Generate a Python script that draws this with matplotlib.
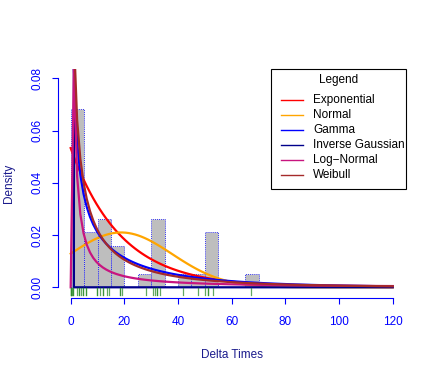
import math

import numpy as np
import matplotlib

matplotlib.use("Agg")
import matplotlib.pyplot as plt
from matplotlib.patches import Rectangle

plt.rcParams["font.family"] = ["Liberation Sans", "DejaVu Sans"]

delta_times = [
    0.05, 0.1, 0.2, 0.3, 0.5, 1.0, 1.0, 2.2, 3.1, 3.1, 3.8, 4.7, 4.7,
    5.7, 5.7, 9.9, 9.95,
    10.9, 12.2, 12.2, 13.4, 14.3,
    18.4, 18.4, 19.2,
    28.1,
    30.8, 31.5, 32.3, 32.3, 33.3,
    42.0,
    47.6,
    50.2, 51.3, 51.3, 52.9,
    67.1,
]
bin_edges = list(range(0, 75, 5))

# fitted distribution parameters
exp_rate = 0.0533
norm_mean, norm_sd = 18.8, 19.0
gamma_shape, gamma_scale = 0.45, 41.5
invgauss_mean, invgauss_shape = 0.001, 0.01
lnorm_meanlog, lnorm_sdlog = 0.6, 3.9
weib_shape, weib_scale = 0.6, 12.5

dist_names = ["Exponential", "Normal", "Gamma", "Inverse Gaussian", "Log\u2212Normal", "Weibull"]
dist_colors = ["red", "orange", "blue", "darkblue", "#C8157F", "#A52A2A"]

x_ticks = [0, 20, 40, 60, 80, 100, 120]
y_ticks = [0.00, 0.02, 0.04, 0.06, 0.08]


def densities(x):
    x_ig = np.maximum(x, 1e-3)
    with np.errstate(divide="ignore", invalid="ignore", over="ignore"):
        d_exp = exp_rate * np.exp(-exp_rate * x)
        d_norm = np.exp(-((x - norm_mean) ** 2) / (2 * norm_sd**2)) / (norm_sd * np.sqrt(2 * np.pi))
        d_gamma = x ** (gamma_shape - 1) * np.exp(-x / gamma_scale) / (
            math.gamma(gamma_shape) * gamma_scale**gamma_shape
        )
        d_ig = np.sqrt(invgauss_shape / (2 * np.pi * x_ig**3)) * np.exp(
            -invgauss_shape * (x_ig - invgauss_mean) ** 2 / (2 * invgauss_mean**2 * x_ig)
        )
        d_ln = np.exp(-((np.log(x) - lnorm_meanlog) ** 2) / (2 * lnorm_sdlog**2)) / (
            x * lnorm_sdlog * np.sqrt(2 * np.pi)
        )
        d_weib = (weib_shape / weib_scale) * (x / weib_scale) ** (weib_shape - 1) * np.exp(
            -((x / weib_scale) ** weib_shape)
        )
    d_ln = np.where(x == 0, 0.0, d_ln)
    d_gamma = np.where(np.isfinite(d_gamma), d_gamma, np.nan)
    d_weib = np.where(np.isfinite(d_weib), d_weib, np.nan)
    return [d_exp, d_norm, d_gamma, d_ig, d_ln, d_weib]


W, H = 436, 382
fig = plt.figure(figsize=(W / 100, H / 100), dpi=100)
ax = fig.add_axes([57.8 / W, (H - 298.3) / H, (405.6 - 57.8) / W, (298.3 - 69) / H])

# histogram
ax.hist(
    delta_times,
    bins=bin_edges,
    density=True,
    facecolor="#BEBEBE",
    edgecolor="blue",
    linestyle=(0, (1, 1.5)),
    linewidth=0.6,
)

# fitted curves, evaluated like R's curve() with n=101
xs = np.linspace(0, 120, 101)
for dens, name, col in zip(densities(xs), dist_names, dist_colors):
    ax.plot(xs, dens, color=col, linewidth=1.6, label=name)

# rug
for v in delta_times:
    ax.plot([v, v], [-0.0029, -0.0003], color="#2E8B2E", linewidth=0.9, alpha=0.75)

ax.set_xlim(-4.8, 124.8)
ax.set_ylim(-0.00421, 0.08358)

for side in ["top", "right"]:
    ax.spines[side].set_visible(False)
ax.spines["left"].set_bounds(0, 0.08)
ax.spines["bottom"].set_bounds(0, 120)
ax.spines["left"].set_color("blue")
ax.spines["bottom"].set_color("blue")
ax.set_xticks(x_ticks)
ax.set_yticks(y_ticks)
ax.set_yticklabels([f"{v:.2f}" for v in y_ticks], rotation=90, va="center")
ax.tick_params(axis="both", colors="blue", labelsize=8.5, length=4.5, width=0.8, direction="out")
ax.tick_params(axis="x", pad=8)
ax.tick_params(axis="y", pad=6)

ax.set_xlabel("Delta Times", color="#1a1a8c", fontsize=8.5, labelpad=15.5)
ax.set_ylabel("Density", color="#1a1a8c", fontsize=8.5, labelpad=12)


# R-style legend box, placed in figure pixels
def fx(px):
    return px / W


def fy(py):
    return 1 - py / H


fig.patches.append(
    Rectangle((fx(271), fy(189.3)), fx(405.7) - fx(271), fy(69.3) - fy(189.3),
              transform=fig.transFigure, facecolor="white", edgecolor="black", linewidth=0.8)
)
fig.text(fx(338.5), fy(80), "Legend", ha="center", va="center", fontsize=8.5)
for i, (name, col) in enumerate(zip(dist_names, dist_colors)):
    row_y = fy(100 + i * 15)
    fig.lines.append(plt.Line2D([fx(281), fx(302.7)], [row_y, row_y], transform=fig.transFigure,
                                color=col, linewidth=1))
    fig.text(fx(313), row_y, name, ha="left", va="center", fontsize=8.5)

plt.savefig("out.png", dpi=100)
